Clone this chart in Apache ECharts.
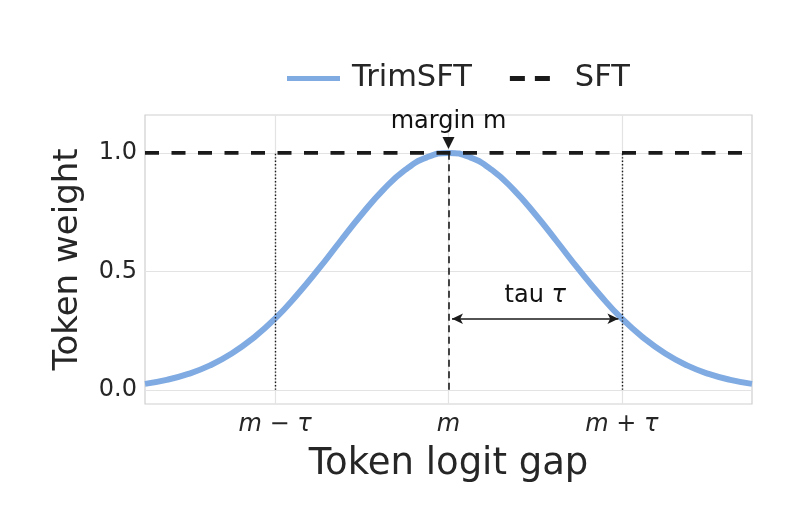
<!DOCTYPE html>
<html>
<head>
<meta charset="utf-8">
<script src="https://cdn.jsdelivr.net/npm/echarts@6/dist/echarts.min.js"></script>
<style>
html,body{margin:0;padding:0;background:#fff;}
#chart{width:806px;height:524px;}
</style>
</head>
<body>
<div id="chart"></div>
<script>
// ---- data ----
const xValues = [-1.75,-1.625,-1.5,-1.375,-1.25,-1.125,-1.0,-0.875,-0.75,-0.625,-0.5,-0.375,-0.25,-0.125,0,
                 0.125,0.25,0.375,0.5,0.625,0.75,0.875,1.0,1.125,1.25,1.375,1.5,1.625,1.75];
const trimSFT = [0.025,0.042,0.067,0.103,0.153,0.219,0.30,0.399,0.509,0.626,0.741,0.845,0.928,0.981,1.0,
                 0.981,0.928,0.845,0.741,0.626,0.509,0.399,0.30,0.219,0.153,0.103,0.067,0.042,0.025];
const sftX = [-1.75, 1.75];
const sftY = [1.0, 1.0];
const xTickValues = [-1, 0, 1];
const xTickLabels = ['m − τ', 'm', 'm + τ'];
const yTickValues = [0, 0.5, 1.0];
const marginX = 0, marginY = 1.0;
const tauFrom = 0, tauTo = 1, tauY = 0.3;
const seriesNames = ['TrimSFT', 'SFT'];

const FONT = 'DejaVu Sans';
const TXT = '#262626';
const GRID = '#e3e3e3';
const BLUE = '#7faae2';
const INK = '#1a1a1a';

const chart = echarts.init(document.getElementById('chart'), null, {renderer:'canvas'});

const gridLines = [];
xTickValues.forEach(v => gridLines.push({xAxis: v}));
yTickValues.forEach(v => gridLines.push({yAxis: v}));

const option = {
  backgroundColor: '#fff',
  animation: false,
  textStyle: {fontFamily: FONT, color: TXT},
  legend: {
    left: 287, top: 63, padding: 0,
    itemWidth: 53, itemHeight: 5, itemGap: 38,
    textStyle: {fontFamily: FONT, fontSize: 30.5, color: TXT, padding:[0,0,0,7]},
    data: [
      {name: seriesNames[0], icon: 'rect', itemStyle:{color: BLUE}},
      {name: seriesNames[1], icon: 'path://M0,0h15v5h-15z M25,0h15v5h-15z M52.9,0h0.1v0.1h-0.1z', itemStyle:{color: INK}}
    ]
  },
  grid: {left: 145, right: 54, top: 115, bottom: 120, show: true, borderColor: '#cfcfcf', borderWidth: 1.2, containLabel: false},
  xAxis: {
    type: 'value', min: -1.75, max: 1.75,
    name: 'Token logit gap', nameLocation: 'middle', nameGap: 42,
    nameTextStyle: {fontFamily: FONT, fontSize: 37, color: TXT},
    axisLine: {show: false}, axisTick: {show: false}, splitLine: {show: false},
    axisLabel: {
      customValues: xTickValues,
      margin: 9, fontFamily: FONT, fontSize: 24, fontStyle: 'italic', color: TXT,
      formatter: v => { const i = xTickValues.indexOf(Math.round(v*1000)/1000); return i >= 0 ? xTickLabels[i] : ''; }
    }
  },
  yAxis: {
    type: 'value', min: -0.06, max: 1.16,
    name: 'Token weight', nameLocation: 'middle', nameGap: 60, nameRotate: 90,
    nameTextStyle: {fontFamily: FONT, fontSize: 34, color: TXT},
    axisLine: {show: false}, axisTick: {show: false}, splitLine: {show: false},
    axisLabel: {
      customValues: yTickValues,
      margin: 8, fontFamily: FONT, fontSize: 24, color: TXT,
      formatter: v => v.toFixed(1)
    }
  },
  series: [
    {
      // grid lines
      type: 'line', data: [], silent: true, z: 0,
      markLine: {silent: true, z: 0, symbol: ['none','none'], label: {show:false},
        lineStyle: {color: GRID, width: 1.2, type: 'solid'}, data: gridLines}
    },
    {
      name: seriesNames[0], type: 'line', smooth: true, showSymbol: false, z: 3,
      lineStyle: {color: BLUE, width: 6}, itemStyle: {color: BLUE},
      data: xValues.map((x, i) => [x, trimSFT[i]])
    },
    {
      name: seriesNames[1], type: 'line', showSymbol: false, z: 4,
      lineStyle: {color: INK, width: 3.8, type: [14, 12.5]}, itemStyle: {color: INK},
      data: sftX.map((x, i) => [x, sftY[i]])
    },
    {
      // reference lines at m, m±tau
      type: 'line', data: [], silent: true, z: 5,
      markLine: {silent: true, z: 5, symbol: ['none','none'], label: {show:false},
        data: [
          [{coord:[marginX, 0], lineStyle:{color: INK, width:1.6, type:[7,4.5]}}, {coord:[marginX, marginY]}],
          [{coord:[tauFrom - tauTo, 0], lineStyle:{color: INK, width:1.4, type:[1.4,2]}}, {coord:[tauFrom - tauTo, marginY]}],
          [{coord:[tauTo, 0], lineStyle:{color: INK, width:1.4, type:[1.4,2]}}, {coord:[tauTo, marginY]}]
        ]}
    },
    {
      // tau double arrow
      type: 'line', data: [], silent: true, z: 6,
      markLine: {silent: true, z: 6, symbol: ['arrow','arrow'], symbolSize: [8, 11], label: {show:false},
        lineStyle: {color: INK, width: 1.5, type: 'solid'},
        data: [[{coord:[tauFrom + 0.02, tauY]}, {coord:[tauTo - 0.02, tauY]}]]}
    },
    {
      // margin marker triangle
      type: 'scatter', silent: true, z: 7,
      symbol: 'path://M0,0L10,0L5,10Z', symbolSize: [12, 12], symbolOffset: [0, -10],
      itemStyle: {color: INK, opacity: 1},
      label: {show: true, position: 'top', distance: 3, formatter: 'margin m', fontFamily: FONT, fontSize: 24, color: '#111', opacity: 1},
      data: [[marginX, marginY]]
    },
    {
      // tau label
      type: 'scatter', silent: true, z: 7, symbolSize: 0,
      itemStyle: {opacity: 1},
      label: {show: true, position: 'top', distance: 11, formatter: 'tau {i|τ}', fontFamily: FONT, fontSize: 24, color: '#111', opacity: 1,
        rich: {i: {fontFamily: FONT, fontSize: 24, fontStyle: 'italic', color: '#111'}}},
      data: [[(tauFrom + tauTo) / 2, tauY]]
    }
  ]
};
chart.setOption(option);
</script>
</body>
</html>
